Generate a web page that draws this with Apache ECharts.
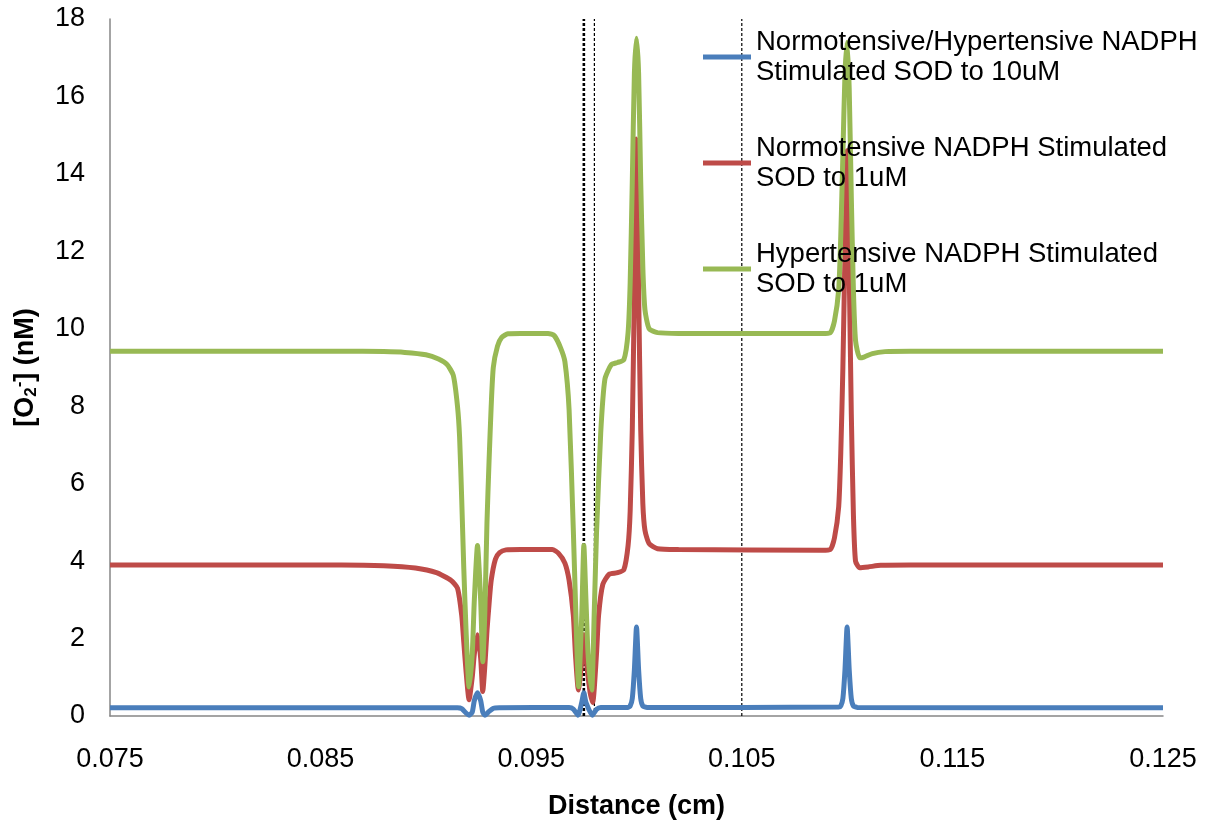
<!DOCTYPE html>
<html>
<head>
<meta charset="utf-8">
<script src="https://cdn.jsdelivr.net/npm/echarts@6/dist/echarts.min.js"></script>
<style>
  html, body { margin: 0; padding: 0; background: #fff; }
  #main { width: 1218px; height: 826px; }
</style>
</head>
<body>
<div id="main"></div>
<script>
// legend names
const seriesNames = [
  'Normotensive/Hypertensive NADPH\nStimulated SOD to 10uM',
  'Normotensive NADPH Stimulated\nSOD to 1uM',
  'Hypertensive NADPH Stimulated\nSOD to 1uM'
]

// blue: SOD 10uM (both)
const blueX = [0.075, 0.0915, 0.0917, 0.0919, 0.09205, 0.0922, 0.0923, 0.09245, 0.0926, 0.0927, 0.0928, 0.0930, 0.0932, 0.0935,
  0.0968, 0.0970, 0.09722, 0.0974, 0.0975, 0.0976, 0.0979, 0.0981, 0.0983,
  0.0996, 0.0997, 0.0998, 0.0999, 0.1000, 0.1001, 0.1002, 0.1003, 0.1005,
  0.1096, 0.1097, 0.1098, 0.1099, 0.1100, 0.1101, 0.1102, 0.1103, 0.1105, 0.125]
const blueY = [0.21, 0.21, 0.19, 0.08, 0.02, 0.1, 0.4, 0.6, 0.4, 0.1, 0.02, 0.12, 0.2, 0.21,
  0.22, 0.18, 0.02, 0.35, 0.6, 0.35, 0.02, 0.17, 0.22,
  0.22, 0.26, 0.45, 1.2, 2.3, 1.2, 0.45, 0.26, 0.22,
  0.23, 0.26, 0.45, 1.2, 2.3, 1.2, 0.45, 0.26, 0.22, 0.21]

// red: normotensive SOD 1uM
const redX = [0.075, 0.086, 0.088, 0.0895, 0.0905, 0.0912, 0.0915, 0.0917, 0.0918, 0.0919, 0.09205, 0.0922, 0.0923, 0.09245,
  0.0926, 0.0927, 0.0928, 0.0929, 0.0930, 0.0931, 0.0933, 0.0935, 0.0938, 0.0945,
  0.0960, 0.0963, 0.0966, 0.0968, 0.0970, 0.0971, 0.09724, 0.0974, 0.0975, 0.0976, 0.0978, 0.09792,
  0.0981, 0.0982, 0.0984, 0.0987, 0.0991, 0.0994, 0.0996, 0.0997, 0.0998, 0.0999, 0.1000,
  0.1001, 0.1002, 0.1003, 0.1004, 0.1006, 0.1010, 0.1020,
  0.1088, 0.1092, 0.1094, 0.1096, 0.1097, 0.1098, 0.1099, 0.1100,
  0.1101, 0.1102, 0.1103, 0.1104, 0.1106, 0.1110, 0.1116, 0.1130, 0.125]
const redY = [3.9, 3.9, 3.88, 3.82, 3.7, 3.5, 3.3, 2.6, 1.9, 1.2, 0.42, 1.0, 1.6, 2.1,
  1.5, 0.63, 1.3, 2.2, 2.9, 3.5, 4.05, 4.22, 4.29, 4.3,
  4.3, 4.2, 3.95, 3.5, 2.6, 1.6, 0.67, 1.4, 2.1, 1.5, 0.6, 0.35,
  1.6, 2.6, 3.4, 3.66, 3.7, 3.78, 4.4, 5.3, 7.4, 11.0, 14.9,
  11.0, 7.4, 5.5, 4.8, 4.45, 4.32, 4.3,
  4.28, 4.3, 4.6, 5.4, 6.8, 9.0, 12.0, 14.6,
  11.5, 7.8, 5.2, 4.0, 3.83, 3.85, 3.89, 3.9, 3.9]

// green: hypertensive SOD 1uM
const greenX = [0.075, 0.086, 0.088, 0.089, 0.0900, 0.0906, 0.0910, 0.0913, 0.0915, 0.0916, 0.0917, 0.0918, 0.0919, 0.09205,
  0.0922, 0.0923, 0.09245, 0.0926, 0.0927, 0.0928, 0.0929, 0.0930, 0.0931, 0.0932, 0.0934, 0.0936, 0.0939, 0.0945,
  0.0958, 0.0961, 0.0964, 0.0966, 0.0968, 0.0970, 0.0971, 0.09725, 0.0974, 0.0975, 0.0976, 0.0977, 0.09787,
  0.0980, 0.0981, 0.0983, 0.0985, 0.0988, 0.0991, 0.0994, 0.0996, 0.0997, 0.0998, 0.0999, 0.1000,
  0.1001, 0.1002, 0.1003, 0.1004, 0.1006, 0.1010, 0.1020,
  0.1088, 0.1092, 0.1094, 0.1096, 0.1097, 0.1098, 0.1099, 0.1100,
  0.1101, 0.1102, 0.1103, 0.1104, 0.1106, 0.1108, 0.1112, 0.1118, 0.1130, 0.125]
const greenY = [9.42, 9.42, 9.41, 9.39, 9.33, 9.22, 9.08, 8.8, 8.0, 7.2, 5.6, 3.8, 2.3, 0.75,
  1.6, 3.0, 4.4, 3.0, 1.4, 2.7, 5.0, 6.6, 8.0, 9.0, 9.55, 9.78, 9.87, 9.88,
  9.88, 9.82, 9.5, 9.15, 7.9, 4.8, 3.0, 0.76, 2.6, 4.4, 3.0, 1.6, 0.67,
  2.8, 4.7, 7.3, 8.7, 9.07, 9.13, 9.2, 9.9, 11.2, 13.8, 16.6, 17.5,
  16.6, 13.8, 11.6, 10.5, 10.0, 9.9, 9.88,
  9.88, 9.9, 10.2, 11.0, 12.4, 14.5, 16.6, 17.4,
  16.2, 13.4, 11.0, 9.7, 9.25, 9.27, 9.36, 9.41, 9.42, 9.42]

// dashed reference lines (cm) and their widths
const refLines = [0.0975, 0.098, 0.105]
const refWidths = [2.6, 1.2, 1.2]

const zip = (xs, ys) => xs.map((x, i) => [x, ys[i]])

const myChart = echarts.init(document.getElementById('main'))
const font = 'Liberation Sans, Arial, sans-serif'

const dashSeries = refLines.map((v, i) => ({
  type: 'line',
  data: [[v, 0], [v, 18]],
  symbol: 'none',
  silent: true,
  z: 1,
  lineStyle: { color: '#000', width: refWidths[i], type: [3, 2] }
}))

const option = {
  animation: false,
  textStyle: { fontFamily: font },
  grid: { left: 110, right: 55, top: 19, bottom: 110 },
  legend: {
    orient: 'vertical',
    left: 703,
    top: 12,
    padding: 0,
    itemWidth: 48,
    itemHeight: 5,
    itemGap: 16,
    icon: 'rect',
    textStyle: { fontSize: 27.5, color: '#000', lineHeight: 30, padding: [30, 0, 0, 0], fontFamily: font },
    data: seriesNames
  },
  xAxis: {
    type: 'value',
    min: 0.075,
    max: 0.125,
    interval: 0.005,
    name: 'Distance (cm)',
    nameLocation: 'middle',
    nameGap: 77,
    nameTextStyle: { fontSize: 27, fontWeight: 'bold', color: '#000' },
    axisLine: { lineStyle: { color: '#868686', width: 1.5 } },
    axisTick: { show: false },
    splitLine: { show: false },
    axisLabel: {
      fontSize: 27,
      color: '#000',
      margin: 30,
      showMinLabel: true,
      showMaxLabel: true,
      formatter: v => (Math.round(v * 1000) % 10 === 5 ? v.toFixed(3) : '')
    }
  },
  yAxis: {
    type: 'value',
    min: 0,
    max: 18,
    interval: 2,
    name: '[O{sub|2}{sup|-}] (nM)',
    nameLocation: 'middle',
    nameGap: 70,
    nameTextStyle: {
      fontSize: 27, fontWeight: 'bold', color: '#000',
      rich: {
        sub: { fontSize: 17, fontWeight: 'bold', color: '#000', verticalAlign: 'bottom', padding: [12, 0, 0, 0] },
        sup: { fontSize: 17, fontWeight: 'bold', color: '#000', verticalAlign: 'top', padding: [0, 0, 12, 0] }
      }
    },
    axisLine: { show: true, lineStyle: { color: '#868686', width: 1.5 } },
    axisTick: { show: false },
    splitLine: { show: false },
    axisLabel: { fontSize: 27, color: '#000', margin: 25 }
  },
  series: [
    {
      name: seriesNames[0],
      type: 'line',
      data: zip(blueX, blueY),
      symbol: 'none',
      smooth: 0.2,
      color: '#4A7EBB',
      lineStyle: { width: 5, color: '#4A7EBB' }
    },
    {
      name: seriesNames[1],
      type: 'line',
      data: zip(redX, redY),
      symbol: 'none',
      smooth: 0.2,
      color: '#BE4B48',
      lineStyle: { width: 5, color: '#BE4B48' }
    },
    {
      name: seriesNames[2],
      type: 'line',
      data: zip(greenX, greenY),
      symbol: 'none',
      smooth: 0.2,
      color: '#98B954',
      lineStyle: { width: 5, color: '#98B954' }
    }
  ].concat(dashSeries)
}

myChart.setOption(option)
</script>
</body>
</html>
